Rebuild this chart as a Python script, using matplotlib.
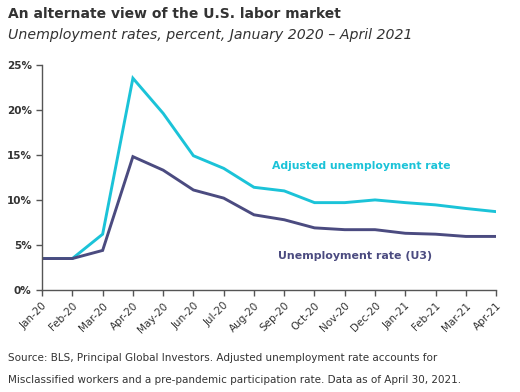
import matplotlib.pyplot as plt
import matplotlib.ticker as mticker

# --- data ---
months = ["Jan-20", "Feb-20", "Mar-20", "Apr-20", "May-20", "Jun-20", "Jul-20", "Aug-20",
          "Sep-20", "Oct-20", "Nov-20", "Dec-20", "Jan-21", "Feb-21", "Mar-21", "Apr-21"]
adjusted = [3.5, 3.5, 6.2, 23.5, 19.6, 14.9, 13.5, 11.4, 11.0, 9.7, 9.7, 10.0, 9.7, 9.45, 9.05, 8.7]
u3 = [3.5, 3.5, 4.4, 14.8, 13.3, 11.1, 10.2, 8.35, 7.8, 6.9, 6.7, 6.7, 6.3, 6.2, 5.95, 5.95]

cyan = "#1BC3D8"
navy = "#4B4B80"
txt = "#333333"

fig = plt.figure(figsize=(5.2, 3.92), dpi=100)
ax = fig.add_axes([0.081, 0.26, 0.873, 0.575])

x = range(len(months))
ax.plot(x, adjusted, color=cyan, lw=2.1, solid_joinstyle="miter")
ax.plot(x, u3, color=navy, lw=2.1, solid_joinstyle="miter")

ax.set_xlim(0, len(months) - 1)
ax.set_ylim(0, 25)
ax.yaxis.set_major_locator(mticker.MultipleLocator(5))
ax.yaxis.set_major_formatter(mticker.FuncFormatter(lambda v, p: f"{v:.0f}%"))
ax.set_xticks(list(x))
ax.set_xticklabels(months, rotation=45, ha="right", rotation_mode="anchor")

for s in ["top", "right"]:
    ax.spines[s].set_visible(False)
for s in ["left", "bottom"]:
    ax.spines[s].set_color("#555555")
    ax.spines[s].set_linewidth(1)
ax.tick_params(colors="#555555", length=4, width=1, labelsize=7.5, labelcolor=txt)
for lab in ax.get_yticklabels():
    lab.set_fontweight("bold")

ax.text(7.6, 13.8, "Adjusted unemployment rate", color=cyan, fontsize=7.8, fontweight="bold",
        va="center")
ax.text(7.8, 3.8, "Unemployment rate (U3)", color=navy, fontsize=7.9, fontweight="bold",
        va="center")

fig.text(0.015, 0.964, "An alternate view of the U.S. labor market", fontsize=10,
         fontweight="bold", color=txt, va="center")
fig.text(0.015, 0.91, "Unemployment rates, percent, January 2020 \u2013 April 2021", fontsize=10.2,
         style="italic", color=txt, va="center")
fig.text(0.015, 0.087, "Source: BLS, Principal Global Investors. Adjusted unemployment rate accounts for",
         fontsize=7.5, color=txt, va="center")
fig.text(0.015, 0.031, "Misclassified workers and a pre-pandemic participation rate. Data as of April 30, 2021.",
         fontsize=7.5, color=txt, va="center")

fig.savefig("out.png", dpi=100)
